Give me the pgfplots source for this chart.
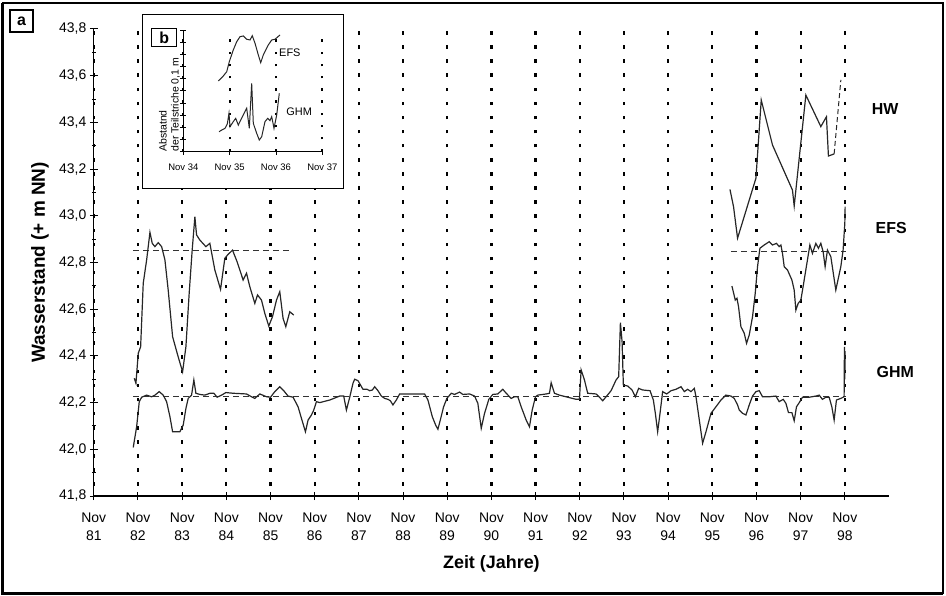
\documentclass[border=0pt]{standalone}
\usepackage{fontspec}
\setmainfont{Liberation Sans}
\usepackage{pgfplots}
\pgfplotsset{compat=1.18}

\begin{document}
\begin{tikzpicture}
\useasboundingbox (-93.8bp,-100bp) rectangle (852.2bp,496bp);
% outer frame and panel label a
\draw[line width=1.5bp] (-90.8bp,-97bp) rectangle (849.2bp,493bp);
\draw[line width=3bp] (-90.8bp,493bp) -- (-90.8bp,-97bp) -- (849.2bp,-97bp);
\draw[line width=1.3bp] (-83.8bp,464bp) rectangle (-60.8bp,486bp);
\node[font=\bfseries\fontsize{16}{16}\selectfont] at (-72.3bp,475bp) {a};

\begin{axis}[
  at={(0bp,0bp)}, anchor=south west,
  scale only axis, width=795.2bp, height=467bp,
  xmin=0, xmax=18, ymin=41.8, ymax=43.8,
  axis x line=bottom, axis y line=left,
  axis line style={-, line width=1.2bp},
  clip=false,
  xtick={0,...,17},
  xticklabels={{Nov\\81},{Nov\\82},{Nov\\83},{Nov\\84},{Nov\\85},{Nov\\86},{Nov\\87},{Nov\\88},{Nov\\89},{Nov\\90},{Nov\\91},{Nov\\92},{Nov\\93},{Nov\\94},{Nov\\95},{Nov\\96},{Nov\\97},{Nov\\98}},
  ytick={41.8,42.0,42.2,42.4,42.6,42.8,43.0,43.2,43.4,43.6,43.8},
  minor y tick num=1,
  tick align=center,
  major tick length=8bp, minor tick length=4bp,
  tick style={black, line width=1bp},
  yticklabel style={/pgf/number format/.cd, fixed, fixed zerofill, precision=1, use comma, assume math mode=true},
  ticklabel style={font=\fontsize{14}{18}\selectfont},
  xticklabel style={align=center, yshift=-9bp},
  xmajorgrids,
  major grid style={black, line width=2.2bp, dash pattern=on 3.5bp off 10.6bp, dash phase=4bp},
  xlabel={Zeit (Jahre)},
  xlabel style={font=\bfseries\fontsize{18}{20}\selectfont, at={(axis description cs:0.5,-0.1456)}, anchor=center},
  ylabel={Wasserstand (+ m NN)},
  ylabel style={font=\bfseries\fontsize{19}{21}\selectfont, at={(axis description cs:-0.0677,0.5)}, anchor=center},
]
% reference levels
\addplot[black!80, line width=1bp, dash pattern=on 6bp off 4bp] coordinates {(0.89,42.85) (4.50,42.85)};
\addplot[black!80, line width=1bp, dash pattern=on 6bp off 4bp] coordinates {(14.43,42.845) (17.03,42.845)};
\addplot[black!80, line width=1bp, dash pattern=on 6bp off 4bp] coordinates {(0.89,42.225) (17.03,42.225)};

% EFS 1982-1986
\addplot[black!85, line width=1.2bp] coordinates {
(0.916,42.304) (0.954,42.283) (1.006,42.411) (1.060,42.439) (1.119,42.711)
(1.196,42.811) (1.271,42.929) (1.323,42.882) (1.384,42.868) (1.458,42.885)
(1.535,42.868) (1.610,42.811) (1.684,42.682) (1.784,42.482) (1.910,42.396)
(2.010,42.332) (2.085,42.439) (2.159,42.668) (2.227,42.853) (2.288,42.996)
(2.326,42.918) (2.401,42.896) (2.537,42.868) (2.627,42.882) (2.740,42.768)
(2.869,42.685) (2.966,42.818) (3.027,42.832) (3.140,42.853) (3.244,42.803)
(3.380,42.725) (3.457,42.754) (3.532,42.696) (3.645,42.625) (3.706,42.661)
(3.796,42.639) (3.871,42.582) (3.961,42.528) (4.045,42.568) (4.135,42.639)
(4.210,42.675) (4.284,42.561) (4.346,42.525) (4.436,42.589) (4.526,42.575)
};

% EFS 1996-1998
\addplot[black!85, line width=1.2bp] coordinates {
(14.445,42.699) (14.520,42.639) (14.558,42.647) (14.594,42.611) (14.648,42.525)
(14.723,42.497) (14.775,42.454) (14.836,42.489) (14.911,42.568) (14.972,42.668)
(15.024,42.782) (15.078,42.861) (15.175,42.875) (15.288,42.889) (15.363,42.875)
(15.453,42.882) (15.514,42.868) (15.553,42.875) (15.589,42.839) (15.628,42.782)
(15.702,42.768) (15.802,42.725) (15.854,42.682) (15.892,42.596) (15.944,42.625)
(16.005,42.639) (16.080,42.725) (16.154,42.811) (16.209,42.875) (16.267,42.839)
(16.344,42.882) (16.403,42.861) (16.457,42.882) (16.509,42.846) (16.554,42.782)
(16.607,42.853) (16.683,42.825) (16.796,42.682) (16.909,42.782) (16.961,42.853)
(17.000,42.968) (17.007,43.039)
};

% HW
\addplot[black!85, line width=1.2bp] coordinates {
(14.400,43.113) (14.481,43.039) (14.572,42.904) (14.988,43.161) (15.108,43.496)
(15.363,43.303) (15.815,43.110) (15.854,43.042) (16.118,43.517) (16.457,43.382)
(16.584,43.424) (16.629,43.256) (16.758,43.265)
};
\addplot[black!85, line width=1bp, dash pattern=on 5bp off 3bp] coordinates {(16.758,43.265) (16.910,43.582)};

% GHM
\addplot[black!85, line width=1.2bp] coordinates {
(0.893,42.008) (0.970,42.097) (1.029,42.204) (1.083,42.223) (1.196,42.232)
(1.309,42.225) (1.384,42.232) (1.481,42.247) (1.571,42.232) (1.648,42.204)
(1.723,42.140) (1.784,42.075) (1.949,42.075) (2.024,42.104) (2.085,42.175)
(2.137,42.218) (2.213,42.232) (2.265,42.297) (2.311,42.240) (2.401,42.235)
(2.514,42.232) (2.627,42.240) (2.718,42.240) (2.792,42.223) (2.892,42.232)
(2.989,42.243) (3.154,42.240) (3.457,42.237) (3.570,42.225) (3.645,42.218)
(3.758,42.237) (3.909,42.225) (4.000,42.223) (4.097,42.247) (4.210,42.268)
(4.300,42.251) (4.397,42.228) (4.511,42.223) (4.624,42.182) (4.723,42.118)
(4.791,42.075) (4.850,42.125) (4.927,42.147) (4.979,42.168) (5.040,42.204)
(5.114,42.200) (5.340,42.211) (5.566,42.228) (5.657,42.228) (5.718,42.168)
(5.793,42.223) (5.867,42.283) (5.905,42.300) (5.980,42.294) (6.093,42.257)
(6.184,42.257) (6.245,42.251) (6.306,42.254) (6.358,42.268) (6.432,42.251)
(6.509,42.228) (6.584,42.218) (6.658,42.214) (6.713,42.208) (6.771,42.190)
(6.848,42.211) (6.923,42.237) (7.149,42.237) (7.488,42.237) (7.563,42.211)
(7.662,42.140) (7.737,42.104) (7.789,42.086) (7.843,42.125) (7.918,42.182)
(7.992,42.218) (8.092,42.240) (8.166,42.235) (8.280,42.245) (8.354,42.235)
(8.506,42.237) (8.619,42.228) (8.693,42.197) (8.770,42.090) (8.845,42.154)
(8.942,42.214) (9.032,42.235) (9.145,42.237) (9.258,42.257) (9.335,42.240)
(9.448,42.218) (9.523,42.225) (9.598,42.225) (9.674,42.182) (9.788,42.125)
(9.862,42.097) (9.923,42.168) (9.998,42.225) (10.050,42.232) (10.240,42.237)
(10.314,42.240) (10.353,42.285) (10.427,42.240) (10.540,42.232) (10.728,42.223)
(10.918,42.214) (10.993,42.214) (11.031,42.340) (11.106,42.297) (11.180,42.240)
(11.370,42.237) (11.445,42.223) (11.520,42.208) (11.596,42.225) (11.709,42.251)
(11.822,42.297) (11.881,42.311) (11.920,42.542) (11.958,42.461) (11.987,42.275)
(12.085,42.271) (12.184,42.254) (12.259,42.225) (12.333,42.261) (12.424,42.254)
(12.591,42.251) (12.666,42.211) (12.711,42.154) (12.763,42.075) (12.817,42.154)
(12.876,42.247) (12.967,42.237) (13.066,42.251) (13.179,42.257) (13.292,42.268)
(13.367,42.247) (13.441,42.257) (13.518,42.247) (13.593,42.261) (13.631,42.225)
(13.706,42.125) (13.781,42.026) (13.857,42.075) (13.970,42.154) (14.083,42.182)
(14.196,42.211) (14.309,42.232) (14.422,42.228) (14.497,42.218) (14.572,42.190)
(14.610,42.168) (14.685,42.154) (14.761,42.147) (14.836,42.190) (14.911,42.228)
(14.988,42.247) (15.063,42.251) (15.137,42.225) (15.289,42.225) (15.440,42.228)
(15.514,42.204) (15.605,42.214) (15.666,42.197) (15.725,42.157) (15.802,42.157)
(15.854,42.122) (15.906,42.182) (15.982,42.204) (16.041,42.223) (16.193,42.223)
(16.344,42.228) (16.419,42.232) (16.493,42.214) (16.570,42.223) (16.645,42.223)
(16.706,42.182) (16.758,42.125) (16.810,42.211) (16.909,42.218) (16.984,42.225)
(16.991,42.439) (17.000,42.300) (17.005,42.420)
};

\node[anchor=west, font=\bfseries\fontsize{16}{18}\selectfont] at (axis cs:17.53,43.457) {HW};
\node[anchor=west, font=\bfseries\fontsize{16}{18}\selectfont] at (axis cs:17.62,42.948) {EFS};
\node[anchor=west, font=\bfseries\fontsize{16}{18}\selectfont] at (axis cs:17.64,42.331) {GHM};
\end{axis}

% inset b
\fill[white] (48.9bp,307.7bp) rectangle (249.5bp,481bp);
\draw[line width=1bp] (48.9bp,307.7bp) rectangle (249.5bp,481bp);
\draw[line width=1.2bp] (57.9bp,449.3bp) rectangle (82.9bp,467.7bp);
\node[font=\bfseries\fontsize{16}{16}\selectfont] at (70.4bp,458.5bp) {b};

\begin{axis}[
  at={(89.5bp,344.3bp)}, anchor=south west,
  scale only axis, width=139bp, height=121.7bp,
  xmin=0, xmax=3, ymin=0, ymax=1,
  axis x line=bottom, axis y line=left,
  axis line style={-, line width=1bp},
  clip=false,
  xtick={0,1,2,3},
  xticklabels={Nov 34,Nov 35,Nov 36,Nov 37},
  ytick={0,0.1,0.2,0.3,0.4,0.5,0.6,0.7,0.8,0.9,1},
  yticklabels={},
  tick align=center,
  major tick length=6bp,
  tick style={black, line width=0.8bp},
  ticklabel style={font=\fontsize{9.5}{11}\selectfont},
  xticklabel style={yshift=-6bp},
  xmajorgrids,
  major grid style={black, line width=1.8bp, dash pattern=on 2.5bp off 9.7bp},
]
\addplot[black!85, line width=1bp] coordinates {
(0.755,0.581) (0.850,0.616) (0.937,0.657) (0.993,0.740) (1.079,0.836)
(1.153,0.904) (1.224,0.945) (1.295,0.951) (1.368,0.924) (1.440,0.918)
(1.489,0.953) (1.548,0.891) (1.619,0.795) (1.671,0.731) (1.727,0.795)
(1.835,0.877) (1.908,0.918) (1.979,0.924) (2.087,0.959)
};
\addplot[black!85, line width=1bp] coordinates {
(0.771,0.164) (0.829,0.178) (0.900,0.192) (0.950,0.228) (0.986,0.316)
(1.008,0.205) (1.079,0.247) (1.131,0.274) (1.187,0.219) (1.295,0.302)
(1.368,0.357) (1.425,0.192) (1.476,0.562) (1.511,0.233) (1.584,0.151)
(1.640,0.096) (1.692,0.123) (1.763,0.247) (1.822,0.274) (1.871,0.255)
(1.908,0.288) (1.958,0.192) (2.016,0.302) (2.072,0.480)
};
\node[font=\fontsize{11}{12}\selectfont] at (axis cs:2.30,0.81) {EFS};
\node[font=\fontsize{11}{12}\selectfont] at (axis cs:2.50,0.33) {GHM};
\node[rotate=90, anchor=south west, align=left, inner sep=0pt, font=\fontsize{10.5}{12}\selectfont] at (axis cs:-0.07,0) {Abstatnd\\der Teilstriche 0,1 m};
\end{axis}
\end{tikzpicture}
\end{document}
